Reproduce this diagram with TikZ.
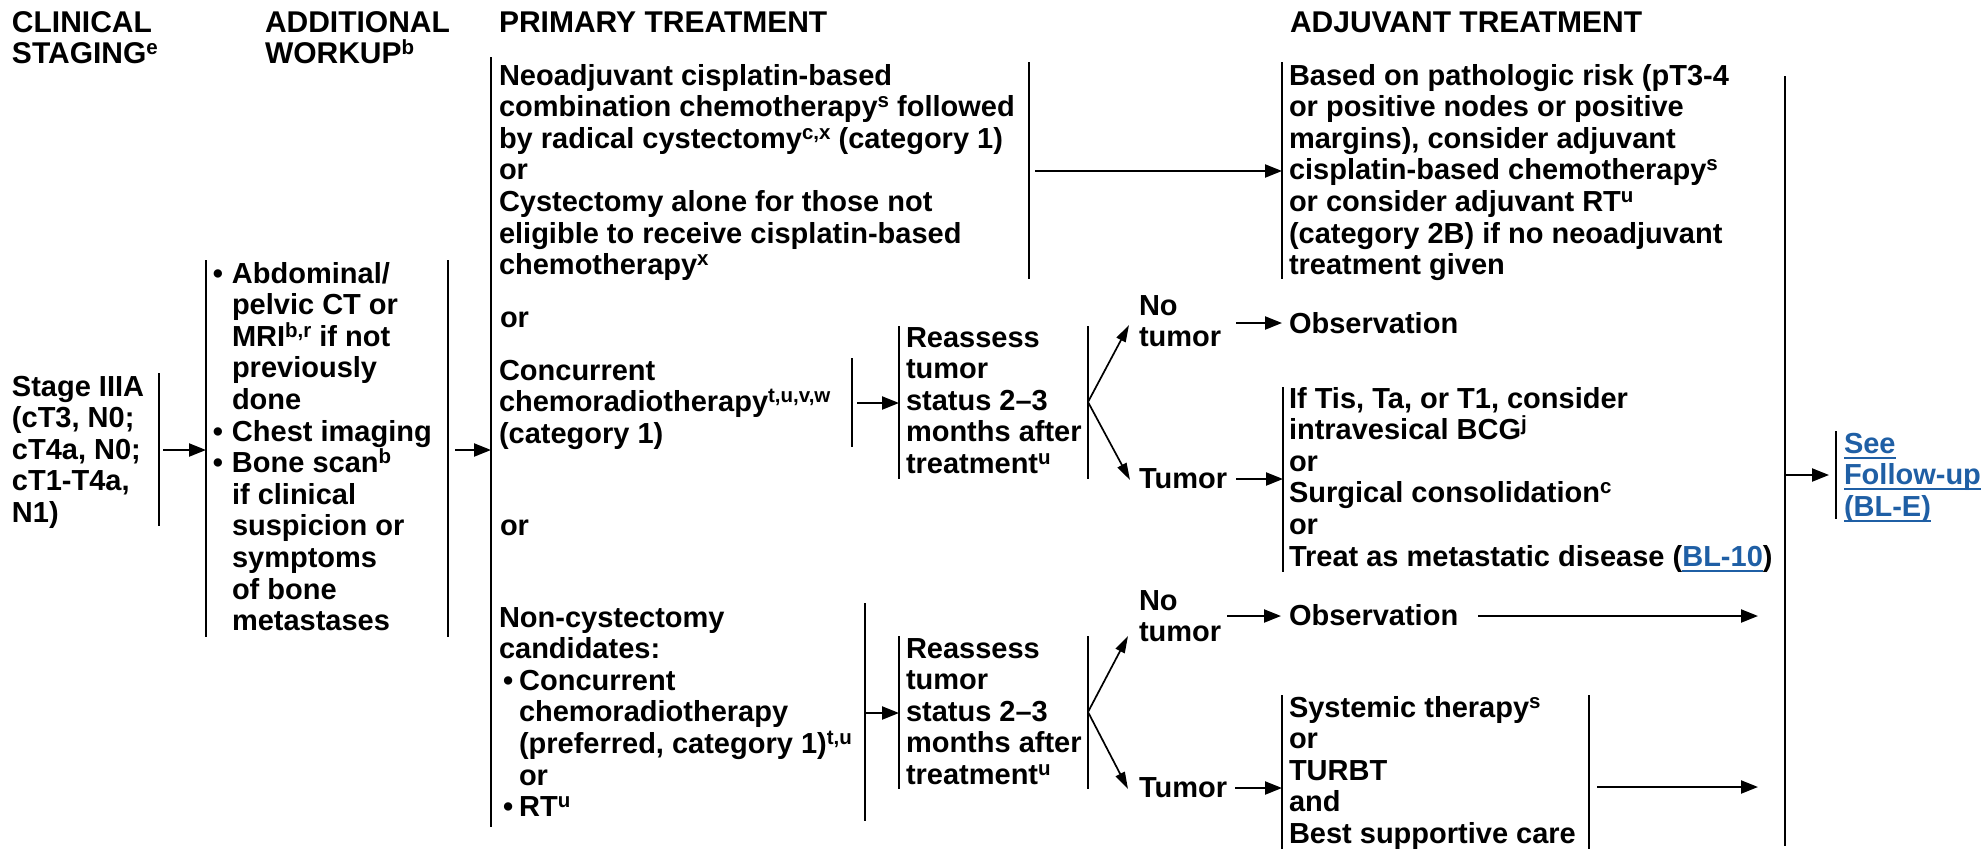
\documentclass[tikz,border=0pt]{standalone}
\usepackage{fontspec}
\setmainfont{Liberation Sans}
\usetikzlibrary{arrows.meta}
\definecolor{linkblue}{RGB}{31,95,165}
\newcommand\sps[1]{\raisebox{9pt}{\fontsize{20.5}{20.5}\selectfont #1}}
\newcommand\lnk[1]{\textcolor{linkblue}{\setbox0\hbox{#1}\rlap{\rule[-5.5pt]{\wd0}{2pt}}\box0}}
% line pitch of the body text; a multi-line node is placed by its last baseline
\def\lh{31.6}
\begin{document}
\begin{tikzpicture}[x=1pt,y=-1pt,
  txt/.style={anchor=base west, inner sep=0pt, outer sep=0pt, align=left,
    font=\fontsize{29}{31.6}\selectfont\bfseries},
  hdr/.style={anchor=base west, inner sep=0pt, outer sep=0pt, align=left,
    font=\fontsize{30}{31}\selectfont\bfseries},
  bar/.style={line width=2.3pt},
  arr/.style={line width=2.2pt, -{Triangle[length=17pt,width=13pt]}},
  thinarr/.style={line width=1.7pt, -{Triangle[length=17pt,width=10pt]}},
]
\useasboundingbox (0,0) rectangle (1984,849);

% column headings
\node[hdr] (hClin) at (12,63) {CLINICAL\\STAGING\sps{e}};
\node[hdr] (hWork) at (265,63) {ADDITIONAL\\WORKUP\sps{b}};
\node[hdr] (hPrim) at (499,32) {PRIMARY TREATMENT};
\node[hdr] (hAdj) at (1290,32) {ADJUVANT TREATMENT};

% clinical staging
\node[txt] (stage) at (12,{396+4*\lh}) {Stage IIIA\\(cT3, N0;\\cT4a, N0;\\cT1-T4a,\\N1)};
\draw[bar] (159,373) -- (159,526);

% additional workup
\node[txt] (work) at (232,{283+11*\lh}) {\llap{\textbullet\hspace{9pt}}Abdominal/\\pelvic CT or\\MRI\sps{b,r} if not\\previously\\done\\\llap{\textbullet\hspace{9pt}}Chest imaging\\\llap{\textbullet\hspace{9pt}}Bone scan\sps{b}\\if clinical\\suspicion or\\symptoms\\of bone\\metastases};
\draw[bar] (206,260) -- (206,637);
\draw[bar] (448,260) -- (448,637);

% primary treatment
\draw[bar] (491,57) -- (491,827);
\node[txt] (neo) at (499,{85+6*\lh}) {Neoadjuvant cisplatin-based\\combination chemotherapy\sps{s} followed\\by radical cystectomy\sps{c,x} (category 1)\\or\\Cystectomy alone for those not\\eligible to receive cisplatin-based\\chemotherapy\sps{x}};
\draw[bar] (1029,62) -- (1029,279);
\node[txt] (or1) at (500,327) {or};
\node[txt] (ccrt) at (499,{380+2*\lh}) {Concurrent\\chemoradiotherapy\sps{t,u,v,w}\\(category 1)};
\draw[bar] (852,358) -- (852,447);
\node[txt] (or2) at (500,535) {or};
\node[txt] (noncys) at (499,{627+6*\lh}) {Non-cystectomy\\candidates:\\\hspace*{4pt}\textbullet\hspace{6pt}Concurrent\\\hspace*{20pt}chemoradiotherapy\\\hspace*{20pt}(preferred, category 1)\sps{t,u}\\\hspace*{20pt}or\\\hspace*{4pt}\textbullet\hspace{6pt}RT\sps{u}};
\draw[bar] (865,603) -- (865,821);

% reassessment after chemoradiotherapy
\node[txt] (re1) at (906,{347+4*\lh}) {Reassess\\tumor\\status 2–3\\months after\\treatment\sps{u}};
\draw[bar] (899,326) -- (899,479);
\draw[bar] (1088,326) -- (1088,479);
\node[txt] (nt1) at (1139,{315+\lh}) {No\\tumor};
\node[txt] (tu1) at (1139,488) {Tumor};

\node[txt] (re2) at (906,{658+4*\lh}) {Reassess\\tumor\\status 2–3\\months after\\treatment\sps{u}};
\draw[bar] (899,636) -- (899,789);
\draw[bar] (1088,636) -- (1088,789);
\node[txt] (nt2) at (1139,{610+\lh}) {No\\tumor};
\node[txt] (tu2) at (1139,797) {Tumor};

% adjuvant treatment
\node[txt] (adj1) at (1289,{85+6*\lh}) {Based on pathologic risk (pT3-4\\or positive nodes or positive\\margins), consider adjuvant\\cisplatin-based chemotherapy\sps{s}\\or consider adjuvant RT\sps{u}\\(category 2B) if no neoadjuvant\\treatment given};
\draw[bar] (1282,62) -- (1282,279);
\node[txt] (obs1) at (1289,333) {Observation};
\node[txt] (adj2) at (1289,{408+5*\lh}) {If Tis, Ta, or T1, consider\\intravesical BCG\sps{j}\\or\\Surgical consolidation\sps{c}\\or\\Treat as metastatic disease (\lnk{BL-10})};
\draw[bar] (1283,387) -- (1283,572);
\node[txt] (obs2) at (1289,625) {Observation};
\node[txt] (sys) at (1289,{717+4*\lh}) {Systemic therapy\sps{s}\\or\\TURBT\\and\\Best supportive care};
\draw[bar] (1282,695) -- (1282,849);
\draw[bar] (1589,695) -- (1589,849);

% follow-up
\draw[bar] (1785,76) -- (1785,846);
\draw[bar] (1836,431) -- (1836,519);
\node[txt] (fu) at (1844,{453+2*\lh}) {\lnk{See}\\\lnk{Follow-up}\\\lnk{(BL-E)}};

% connector end points on the bars
\coordinate (stageR) at (163,450);
\coordinate (workL) at (206,450);
\coordinate (workR) at (455,450);
\coordinate (primL) at (491,450);
\coordinate (neoR) at (1035,171);
\coordinate (adj1L) at (1282,171);
\coordinate (ccrtR) at (857,403);
\coordinate (re1L) at (899,403);
\coordinate (re1R) at (1088,402);
\coordinate (nt1W) at (1129,325);
\coordinate (tu1W) at (1130,480);
\coordinate (nt1E) at (1236,323);
\coordinate (obs1W) at (1282,323);
\coordinate (tu1E) at (1236,479);
\coordinate (adj2L) at (1283,479);
\coordinate (collR) at (1785,475);
\coordinate (fuL) at (1829,475);
\coordinate (noncysR) at (865,713);
\coordinate (re2L) at (899,713);
\coordinate (re2R) at (1088,712);
\coordinate (nt2W) at (1128,636);
\coordinate (tu2W) at (1128,789);
\coordinate (nt2E) at (1227,616);
\coordinate (obs2W) at (1281,616);
\coordinate (obs2E) at (1478,616);
\coordinate (collA) at (1758,616);
\coordinate (tu2E) at (1235,788);
\coordinate (sysL) at (1282,788);
\coordinate (sysR) at (1597,787);
\coordinate (collB) at (1758,787);

% connectors
\draw[arr] (stageR) -- (workL);
\draw[arr] (workR) -- (primL);
\draw[arr] (neoR) -- (adj1L);
\draw[arr] (ccrtR) -- (re1L);
\draw[thinarr] (re1R) -- (nt1W);
\draw[thinarr] (re1R) -- (tu1W);
\draw[arr] (nt1E) -- (obs1W);
\draw[arr] (tu1E) -- (adj2L);
\draw[arr] (collR) -- (fuL);
\draw[arr] (noncysR) -- (re2L);
\draw[thinarr] (re2R) -- (nt2W);
\draw[thinarr] (re2R) -- (tu2W);
\draw[arr] (nt2E) -- (obs2W);
\draw[arr] (obs2E) -- (collA);
\draw[arr] (tu2E) -- (sysL);
\draw[arr] (sysR) -- (collB);
\end{tikzpicture}
\end{document}
